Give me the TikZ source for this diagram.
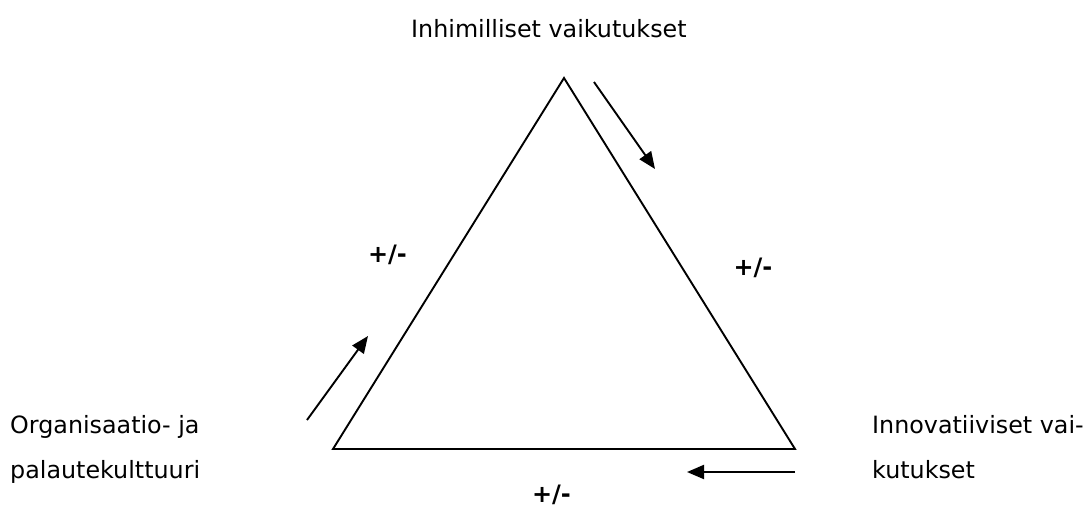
\documentclass[tikz,border=0pt]{standalone}
\usepackage{fontspec}
\setmainfont{DejaVu Sans}
\usetikzlibrary{arrows.meta}
\begin{document}
\begin{tikzpicture}[x=1pt,y=-1pt,
  lbl/.style={inner sep=0pt, font=\fontsize{23.8}{28}\selectfont},
  pm/.style={inner sep=0pt, font=\fontsize{24}{28}\selectfont\bfseries},
  edgeline/.style={line width=1.9pt, line join=miter},
  flow/.style={line width=1.9pt, -{Triangle[length=17pt,width=14pt]}}]
\useasboundingbox (0,0) rectangle (1087,508);
% triangle corners
\coordinate (apex) at (564,78);
\coordinate (bl) at (333,449);
\coordinate (br) at (795,449);
\draw[edgeline] (apex) -- (br) -- (bl) -- cycle;
% arrow ends
\coordinate (r1) at (594,82);
\coordinate (r2) at (655,169);
\coordinate (l1) at (307,420);
\coordinate (l2) at (368,336);
\coordinate (b1) at (795,472);
\coordinate (b2) at (687,472);
\draw[flow] (r1) -- (r2);
\draw[flow] (l1) -- (l2);
\draw[flow] (b1) -- (b2);
% labels
\node[lbl, anchor=base west] (top) at (411,38) {Inhimilliset vaikutukset};
\node[lbl, anchor=base west] (left1) at (10,433) {Organisaatio- ja};
\node[lbl, anchor=base west] (left2) at (10,478) {palautekulttuuri};
\node[lbl, anchor=base west] (right1) at (872,433) {Innovatiiviset vai-};
\node[lbl, anchor=base west] (right2) at (872,478) {kutukset};
\node[pm] (pmleft) at (387.5,255) {+/-};
\node[pm] (pmright) at (753,268) {+/-};
\node[pm] (pmbottom) at (551.5,495) {+/-};
\end{tikzpicture}
\end{document}
